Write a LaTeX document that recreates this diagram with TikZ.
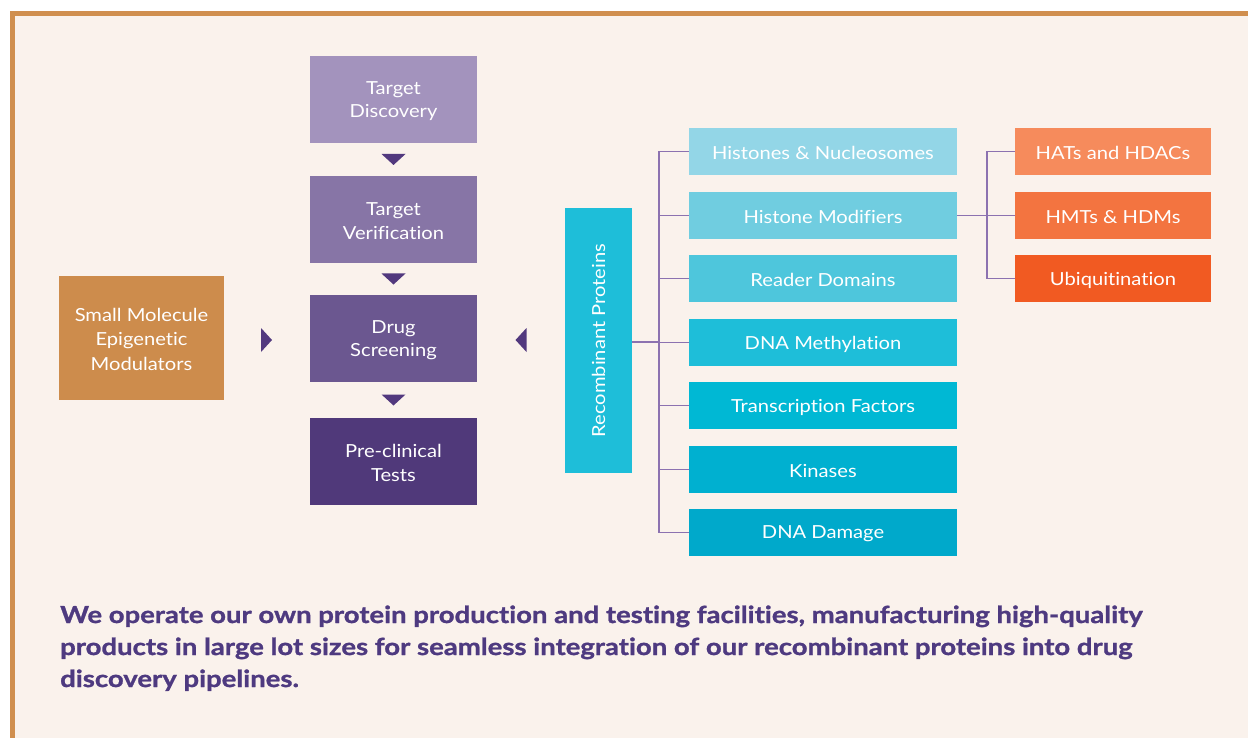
\documentclass[tikz,border=0pt]{standalone}
\usepackage{fontspec}
\setmainfont{Lato}[FakeStretch=1.12, Ligatures=NoCommon]
\newfontfamily\parafont{Lato}[FakeStretch=1.17, Ligatures=NoCommon, BoldFeatures={FakeBold=1.2}]
\usetikzlibrary{calc}
\definecolor{bgc}{HTML}{FAF2EC}
\definecolor{framec}{HTML}{D08F4F}
\definecolor{smc}{HTML}{CD8C4C}
\definecolor{p1}{HTML}{A393BD}
\definecolor{p2}{HTML}{8775A6}
\definecolor{p3}{HTML}{6B5790}
\definecolor{p4}{HTML}{50397A}
\definecolor{tri}{HTML}{52397E}
\definecolor{rpc}{HTML}{1EBED9}
\definecolor{t1c}{HTML}{93D6E7}
\definecolor{t2c}{HTML}{70CDE0}
\definecolor{t3c}{HTML}{4EC6DC}
\definecolor{t4c}{HTML}{1EBED9}
\definecolor{t5c}{HTML}{00B8D4}
\definecolor{t6c}{HTML}{00B0D0}
\definecolor{t7c}{HTML}{00A9CB}
\definecolor{o1c}{HTML}{F68B5C}
\definecolor{o2c}{HTML}{F37440}
\definecolor{o3c}{HTML}{F15A22}
\definecolor{linec}{HTML}{8C72B0}
\definecolor{txtc}{HTML}{4E3A80}
\begin{document}
\begin{tikzpicture}[x=1pt,y=-1pt,
  box/.style={inner sep=0pt, text=white, align=center,
    font=\fontsize{18}{23.5}\selectfont},
  pbox/.style={box, minimum width=167pt, minimum height=87pt},
  tbox/.style={box, minimum width=268pt, minimum height=47pt},
  obox/.style={box, minimum width=196pt, minimum height=47pt},
  lbl/.style={inner sep=0pt, text=white, align=center,
    font=\fontsize{18}{23.5}\selectfont},
  conn/.style={draw=linec, line width=1.6pt},
  para/.style={anchor=base west, inner sep=0pt, text=txtc,
    font=\parafont\fontsize{23.5}{32}\selectfont\bfseries}]
\useasboundingbox (0,0) rectangle (1248,738);
\fill[white] (0,0) rectangle (1248,738);
\fill[bgc] (10,11) rectangle (1248,738);
\fill[framec] (10,11) rectangle (1248,16);
\fill[framec] (10,11) rectangle (15,738);

% small molecule
\node[box, fill=smc, minimum width=165pt, minimum height=124pt] (sm) at (141.5,338) {};
\node[lbl, font=\fontsize{18}{24.5}\selectfont] (sml) at ([yshift=-1]sm.center) {Small Molecule\\Epigenetic\\Modulators};

% pipeline
\node[pbox, fill=p1] (td) at (393.5,99.5) {};
\node[pbox, fill=p2] (tv) at (393.5,219.5) {};
\node[pbox, fill=p3] (ds) at (393.5,338.5) {};
\node[pbox, fill=p4] (pc) at (393.5,461.5) {};
\node[lbl] (tdl) at ([yshift=-1.5]td.center) {Target\\Discovery};
\node[lbl] (tvl) at ([yshift=-1.5]tv.center) {Target\\Verification};
\node[lbl] (dsl) at ([yshift=-1.5]ds.center) {Drug\\Screening};
\node[lbl] (pcl) at ([yshift=-1.5]pc.center) {Pre-clinical\\Tests};

% arrows (triangles)
\coordinate (a1) at ($(td.south)!0.5!(tv.north)$);
\coordinate (a2) at ($(tv.south)!0.5!(ds.north)$);
\coordinate (a3) at ($(ds.south)!0.5!(pc.north)$);
\foreach \c in {a1,a2,a3}
  \fill[tri] (\c) ++(-12,-5.5) -- ++(24,0) -- ++(-12,11) -- cycle;
\coordinate (ar) at (266.5,340);
\coordinate (al) at (521,340);
\fill[tri] (ar) ++(-5.5,-12) -- ++(11,12) -- ++(-11,12) -- cycle;
\fill[tri] (al) ++(5.5,-12) -- ++(-11,12) -- ++(11,12) -- cycle;

% recombinant proteins
\node[box, fill=rpc, minimum width=67pt, minimum height=265pt] (rp) at (598.5,340.5) {};
\node[lbl, rotate=90] (rpt) at (rp.center) {Recombinant Proteins};

% teal boxes
\node[tbox, fill=t1c] (t1) at (823,151.5) {};
\node[tbox, fill=t2c] (t2) at (823,215.5) {};
\node[tbox, fill=t3c] (t3) at (823,278.5) {};
\node[tbox, fill=t4c] (t4) at (823,342.5) {};
\node[tbox, fill=t5c] (t5) at (823,405.5) {};
\node[tbox, fill=t6c] (t6) at (823,469.5) {};
\node[tbox, fill=t7c] (t7) at (823,532.5) {};
\node[lbl] (t1l) at ([yshift=-1.5]t1.center) {Histones \& Nucleosomes};
\node[lbl] (t2l) at ([yshift=-1.5]t2.center) {Histone Modifiers};
\node[lbl] (t3l) at ([yshift=-1.5]t3.center) {Reader Domains};
\node[lbl] (t4l) at ([yshift=-1.5]t4.center) {DNA Methylation};
\node[lbl] (t5l) at ([yshift=-1.5]t5.center) {Transcription Factors};
\node[lbl] (t6l) at ([yshift=-1.5]t6.center) {Kinases};
\node[lbl] (t7l) at ([yshift=-1.5]t7.center) {DNA Damage};

% orange boxes
\node[obox, fill=o1c] (o1) at (1113,151.5) {};
\node[obox, fill=o2c] (o2) at (1113,215.5) {};
\node[obox, fill=o3c] (o3) at (1113,278.5) {};
\node[lbl] (o1l) at ([yshift=-1.5]o1.center) {HATs and HDACs};
\node[lbl] (o2l) at ([yshift=-1.5]o2.center) {HMTs \& HDMs};
\node[lbl] (o3l) at ([yshift=-1.5]o3.center) {Ubiquitination};

% connectors
\coordinate (jx) at (659,342);
\coordinate (kx) at (987,215.5);
\draw[conn] (rp.east |- jx) -- (jx);
\draw[conn] (t1.west -| jx) -- (t7.west -| jx);
\foreach \t in {t1,t2,t3,t4,t5,t6,t7}
  \draw[conn] (\t.west -| jx) -- (\t.west);
\draw[conn] (t2.east) -- (kx);
\draw[conn] (o1.west -| kx) -- (o3.west -| kx);
\foreach \o in {o1,o2,o3}
  \draw[conn] (\o.west -| kx) -- (\o.west);

% paragraph
\node[para] (l1) at (60,623) {We operate our own protein production and testing facilities, manufacturing high-quality};
\node[para] (l2) at (60,655) {products in large lot sizes for seamless integration of our recombinant proteins into drug};
\node[para] (l3) at (60,687) {discovery pipelines.};
\end{tikzpicture}
\end{document}
